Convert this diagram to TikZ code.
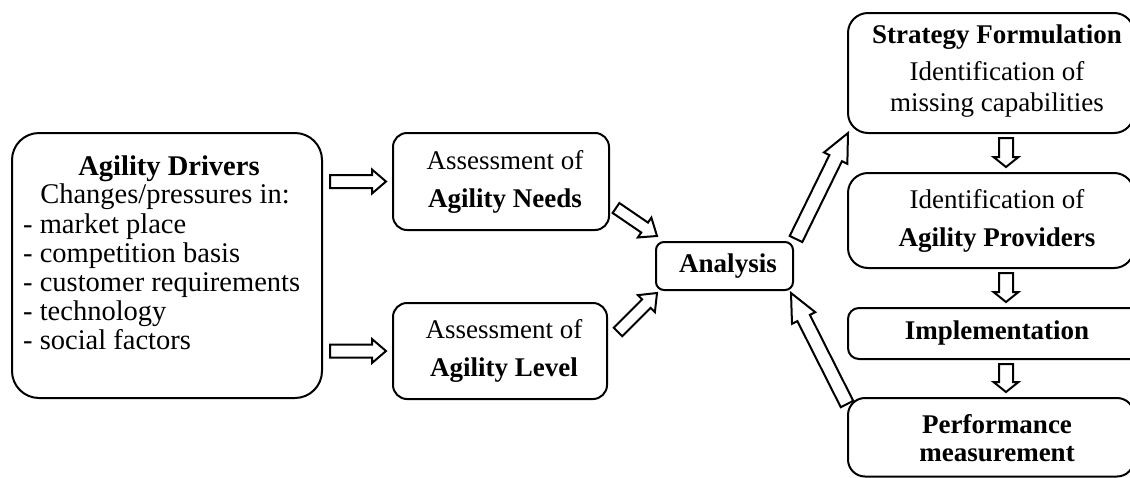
\documentclass[tikz,border=0pt]{standalone}
\usepackage{fontspec}
\setmainfont{Liberation Serif}
\usetikzlibrary{calc}
\tikzset{
  rbox/.style={draw, line width=2pt, rounded corners=#1, inner sep=0pt, fill=white},
  txt/.style={inner sep=0pt, font=\fontsize{27}{38}\selectfont, align=center},
  drvtxt/.style={inner sep=0pt, font=\fontsize{28.5}{29}\selectfont},
  arrline/.style={draw, line width=2pt, line join=miter, fill=white}
}
\newcommand{\blockarr}[5]{% start, end, half shaft, half head, head length
  \coordinate (ba-h) at ($(#2)!#5!(#1)$);
  \draw[arrline] ($(#1)!#3!90:(#2)$) -- ($(ba-h)!#3!-90:(#1)$) -- ($(ba-h)!#4!-90:(#1)$) -- (#2)
    -- ($(ba-h)!#4!90:(#1)$) -- ($(ba-h)!#3!90:(#1)$) -- ($(#1)!#3!-90:(#2)$) -- cycle;
}
\begin{document}
\begin{tikzpicture}[x=1pt, y=-1pt]
\useasboundingbox (0,0) rectangle (1130,477);
\clip (0,0) rectangle (1130,477);

% boxes
\node[rbox=27pt, minimum width=310pt, minimum height=265pt] (drv) at (167,265.5) {};
\node[rbox=14pt, minimum width=216pt, minimum height=97pt] (needs) at (501,181.5) {};
\node[rbox=14pt, minimum width=214pt, minimum height=96pt] (level) at (500,351) {};
\node[rbox=8pt, minimum width=137pt, minimum height=48pt] (ana) at (724.5,266) {};
\node[rbox=20pt, minimum width=286pt, minimum height=120pt] (sf) at (991,73) {};
\node[rbox=20pt, minimum width=286pt, minimum height=95pt] (prov) at (991,220.5) {};
\node[rbox=11pt, minimum width=302pt, minimum height=51pt] (impl) at (999,333.5) {};
\node[rbox=17pt, minimum width=286pt, minimum height=78.5pt] (perf) at (991,437.25) {};

% texts
\node[drvtxt, anchor=base] (drv-t1) at (169,175) {\bfseries Agility Drivers};
\node[drvtxt, anchor=base] (drv-t2) at (165,203) {Changes/pressures in:};
\node[drvtxt, anchor=base west] (drv-l1) at (23,233) {- market place};
\node[drvtxt, anchor=base west] (drv-l2) at (23,262) {- competition basis};
\node[drvtxt, anchor=base west] (drv-l3) at (23,291) {- customer requirements};
\node[drvtxt, anchor=base west] (drv-l4) at (23,320) {- technology};
\node[drvtxt, anchor=base west] (drv-l5) at (23,349) {- social factors};

\node[txt] (needs-t) at (505,181.5) {Assessment of\\ \textbf{Agility Needs}};
\node[txt] (level-t) at (504,351) {Assessment of\\ \textbf{Agility Level}};
\node[txt] (ana-t) at (728,266) {\bfseries Analysis};
\node[txt, font=\fontsize{27}{31}\selectfont] (sf-t) at (997,70.75)
  {\textbf{Strategy Formulation}\\[6pt] Identification of\\ missing capabilities};
\node[txt] (prov-t) at (997,220.5) {Identification of\\ \textbf{Agility Providers}};
\node[txt] (impl-t) at (997,333.5) {\bfseries Implementation};
\node[txt, font=\fontsize{27}{28}\selectfont] (perf-t) at (997,437.8) {\textbf{Performance}\\ \textbf{measurement}};

% arrow end points
\coordinate (a1s) at ($(drv.east |- needs.west)+(7,0)$);
\coordinate (a1e) at ($(needs.west)+(-6,0)$);
\coordinate (a2s) at ($(drv.east |- level.west)+(7,0)$);
\coordinate (a2e) at ($(level.west)+(-6,0)$);
\coordinate (a3s) at ($(needs.south east)+(6,-23)$);
\coordinate (a3e) at ($(ana.north west)+(2,-5)$);
\coordinate (a4s) at ($(level.north east)+(10,30)$);
\coordinate (a4e) at ($(ana.south west)+(2,2)$);
\coordinate (a5s) at ($(ana.north east)+(2,-2)$);
\coordinate (a5e) at ($(sf.south west)+(1,-1)$);
\coordinate (a6s) at ($(perf.north west)+(0,7)$);
\coordinate (a6e) at ($(ana.south east)+(-3,2)$);
\coordinate (d1s) at ($(sf.south)+(15,4)$);
\coordinate (d1e) at ($(prov.north)+(15,-5)$);
\coordinate (d2s) at ($(prov.south)+(15,4)$);
\coordinate (d2e) at ($(impl.north -| prov.south)+(15,-5)$);
\coordinate (d3s) at ($(impl.south -| prov.south)+(15,4)$);
\coordinate (d3e) at ($(perf.north)+(15,-5)$);

% block arrows
\blockarr{a1s}{a1e}{6.5pt}{12pt}{14pt}
\blockarr{a2s}{a2e}{6.5pt}{12pt}{14pt}
\blockarr{a3s}{a3e}{6pt}{12pt}{15pt}
\blockarr{a4s}{a4e}{6pt}{12pt}{15pt}
\blockarr{a5s}{a5e}{7pt}{13pt}{28pt}
\blockarr{a6s}{a6e}{7pt}{13pt}{28pt}
\blockarr{d1s}{d1e}{7pt}{12.5pt}{10pt}
\blockarr{d2s}{d2e}{7pt}{12.5pt}{10pt}
\blockarr{d3s}{d3e}{7pt}{12.5pt}{10pt}
\end{tikzpicture}
\end{document}
